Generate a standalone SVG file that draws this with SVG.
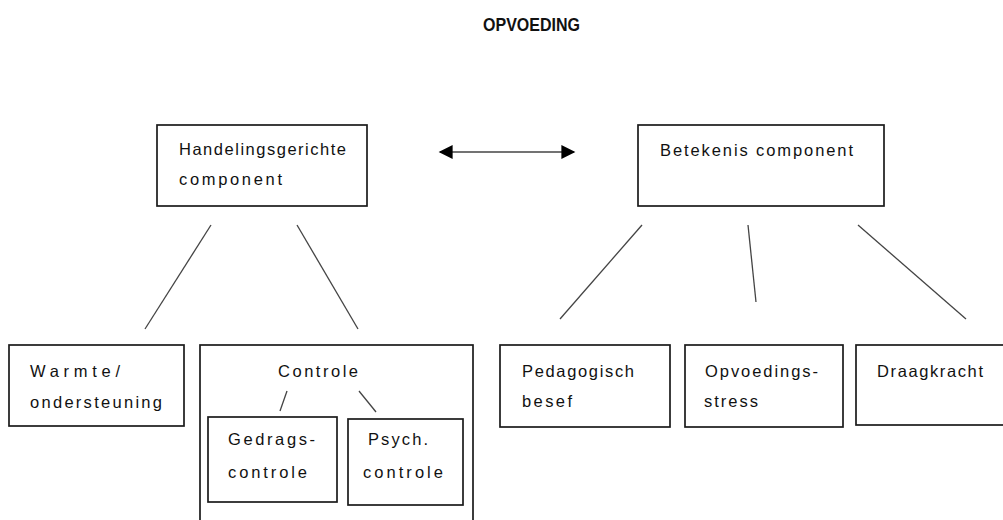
<svg xmlns="http://www.w3.org/2000/svg" width="1003" height="520" viewBox="0 0 1003 520">
<defs>
<style>
.box{fill:#fff;stroke:#1a1a1a;stroke-width:1.7}
.t{font-family:"Liberation Sans",Arial,sans-serif;font-size:16.5px;fill:#111}
.title{font-family:"Liberation Sans",Arial,sans-serif;font-size:19px;font-weight:bold;fill:#111}
.ln{stroke:#444;stroke-width:1.3;fill:none}
</style>
<marker id="ah" viewBox="0 0 10 10" refX="9" refY="5" markerWidth="15" markerHeight="14" markerUnits="userSpaceOnUse" orient="auto-start-reverse">
<path d="M0,0 L10,5 L0,10 z" fill="#000"/>
</marker>
</defs>
<rect width="1003" height="520" fill="#fff"/>
<text class="title" x="483" y="31" textLength="97" lengthAdjust="spacingAndGlyphs">OPVOEDING</text>

<g id="handelingsgerichte">
<rect class="box" x="157" y="125" width="210" height="81"/>
<text class="t" x="179" y="155" textLength="167" lengthAdjust="spacing">Handelingsgerichte</text>
<text class="t" x="179" y="185" textLength="103" lengthAdjust="spacing">component</text>
</g>
<g id="betekenis">
<rect class="box" x="638" y="125" width="246" height="81"/>
<text class="t" x="660" y="156" textLength="193" lengthAdjust="spacing">Betekenis component</text>
</g>
<g id="warmte">
<rect class="box" x="9" y="345" width="175" height="81"/>
<text class="t" x="30" y="377" textLength="90" lengthAdjust="spacing">Warmte/</text>
<text class="t" x="30" y="408" textLength="132" lengthAdjust="spacing">ondersteuning</text>
</g>
<g id="controle">
<rect class="box" x="200" y="345" width="273" height="190"/>
<text class="t" x="278" y="377" textLength="80" lengthAdjust="spacing">Controle</text>
</g>
<g id="gedragscontrole">
<rect class="box" x="208" y="417" width="129" height="85"/>
<text class="t" x="228" y="445" textLength="87" lengthAdjust="spacing">Gedrags-</text>
<text class="t" x="228" y="478" textLength="79" lengthAdjust="spacing">controle</text>
</g>
<g id="psychcontrole">
<rect class="box" x="348" y="419" width="115" height="86"/>
<text class="t" x="368" y="445" textLength="60" lengthAdjust="spacing">Psych.</text>
<text class="t" x="363" y="478" textLength="80" lengthAdjust="spacing">controle</text>
</g>
<g id="pedagogisch">
<rect class="box" x="500" y="345" width="170" height="82"/>
<text class="t" x="522" y="377" textLength="112" lengthAdjust="spacing">Pedagogisch</text>
<text class="t" x="522" y="407" textLength="50" lengthAdjust="spacing">besef</text>
</g>
<g id="opvoedingsstress">
<rect class="box" x="685" y="345" width="158" height="82"/>
<text class="t" x="705" y="377" textLength="113" lengthAdjust="spacing">Opvoedings-</text>
<text class="t" x="704" y="407" textLength="54" lengthAdjust="spacing">stress</text>
</g>
<g id="draagkracht">
<rect class="box" x="856" y="345" width="160" height="80"/>
<text class="t" x="877" y="377" textLength="106" lengthAdjust="spacing">Draagkracht</text>
</g>

<g id="connectors">
<line class="ln" x1="440" y1="152" x2="574" y2="152" stroke="#000" stroke-width="1.6" marker-start="url(#ah)" marker-end="url(#ah)"/>
<line class="ln" x1="211" y1="225" x2="145" y2="329"/>
<line class="ln" x1="297" y1="225" x2="358" y2="329"/>
<line class="ln" x1="642" y1="225" x2="560" y2="319"/>
<line class="ln" x1="748" y1="225" x2="756" y2="302"/>
<line class="ln" x1="858" y1="225" x2="966" y2="319"/>
<line class="ln" x1="287" y1="391" x2="280" y2="411"/>
<line class="ln" x1="359" y1="391" x2="376" y2="412"/>
</g>
</svg>
